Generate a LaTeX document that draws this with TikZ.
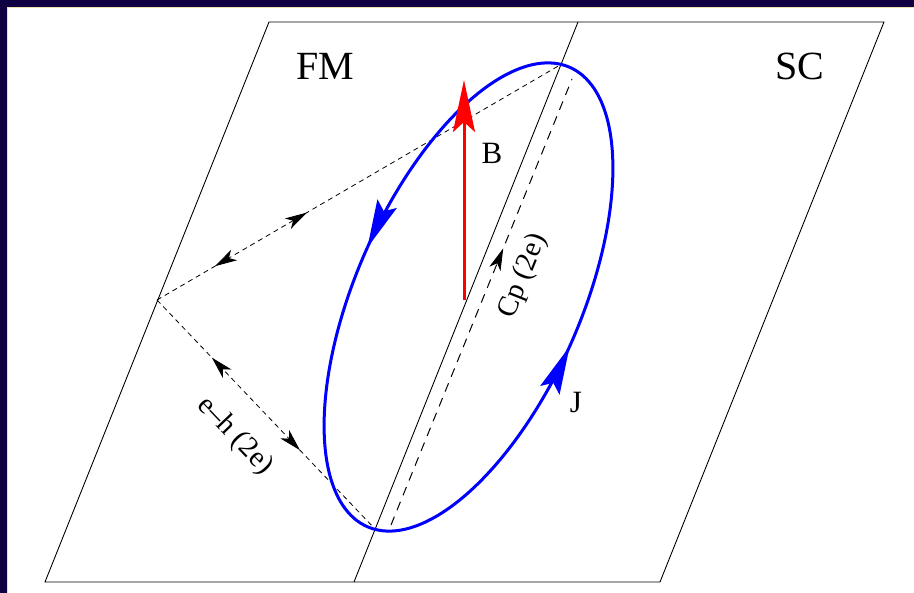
\documentclass[tikz,border=0pt]{standalone}
\usepackage{fontspec}
\setmainfont{Liberation Serif}
\usetikzlibrary{arrows.meta,decorations.markings,calc}
\definecolor{navyframe}{RGB}{14,0,66}
\definecolor{paleyel}{RGB}{236,226,170}
\tikzset{
  smalltip/.tip={Stealth[length=22pt,width=12pt,inset=6pt]},
  bigtip/.tip={Stealth[length=48pt,width=21pt,inset=8pt]},
  redtip/.tip={Stealth[length=52pt,width=22pt,inset=10pt]}
}
\begin{document}
\begin{tikzpicture}[x=1pt,y=-1pt,
  plane/.style={black, line width=0.9pt},
  pairline/.style={black, line width=0.8pt, dash pattern=on 5pt off 4pt},
  cpline/.style={black, line width=1pt, dash pattern=on 9pt off 7pt},
  bigtext/.style={inner sep=0pt, font=\fontsize{40}{48}\selectfont},
  midtext/.style={inner sep=0pt, font=\fontsize{31}{37}\selectfont},
  rottext/.style={inner sep=0pt, font=\fontsize{29}{35}\selectfont}
]
\useasboundingbox (0,0) rectangle (914,593);
\fill[white] (0,0) rectangle (914,593);
% frame
\fill[navyframe] (0,0) rectangle (914,7);
\fill[navyframe] (0,0) rectangle (7,593);
\draw[paleyel, line width=1pt] (7.5,593) -- (7.5,7.5) -- (914,7.5);

% planes
\coordinate (A) at (269,22);
\coordinate (Bc) at (884,22);
\coordinate (Cc) at (660,582);
\coordinate (D) at (45,582);
\coordinate (M1) at (578,22);
\coordinate (M2) at (354,582);
\draw[plane] (A) -- (Bc) -- (Cc) -- (D) -- cycle;
\draw[plane] (M1) -- (M2);

% dashed construction lines
\coordinate (P) at (157,300);
\coordinate (Q) at (560,65);
\coordinate (R) at (375,529);
\coordinate (S) at (391,525);
\coordinate (T) at (572,79);
\draw[pairline, postaction={decorate, decoration={markings,
   mark=at position 0.372 with {\arrow{smalltip}},
   mark=at position 0.144 with {\arrowreversed{smalltip}}}}] (P) -- (Q);
\draw[pairline, postaction={decorate, decoration={markings,
   mark=at position 0.252 with {\arrowreversed{smalltip}},
   mark=at position 0.656 with {\arrow{smalltip}}}}] (P) -- (R);
\draw[cpline, postaction={decorate, decoration={markings,
   mark=at position 0.62 with {\arrow{smalltip}}}}] (S) -- (T);

% current loop
\draw[blue, line width=3pt, postaction={decorate, decoration={markings,
   mark=at position 0.243 with {\arrow{bigtip}},
   mark=at position 0.743 with {\arrow{bigtip}}}}]
  plot[domain=0:358, samples=180, smooth cycle]
  ({468.5 + 101.28*cos(\x) - 102.94*sin(\x)}, {297 - 229.67*cos(\x) - 45.39*sin(\x)});

% field
\coordinate (O) at (464,300);
\coordinate (Btip) at (464,80);
\draw[red, line width=3pt, -redtip] (O) -- (Btip);

% labels
\node[bigtext] (fm) at (325,66) {FM};
\node[bigtext] (sc) at (800,66) {SC};
\node[midtext] (blabel) at (492,153) {B};
\node[midtext] (jlabel) at (576,403) {J};
\node[rottext, rotate=68.2] (cplabel) at (523,276) {Cp (2e)};
\node[rottext, rotate=-46.4] (ehlabel) at (235,436) {e–h (2e)};
\end{tikzpicture}
\end{document}
